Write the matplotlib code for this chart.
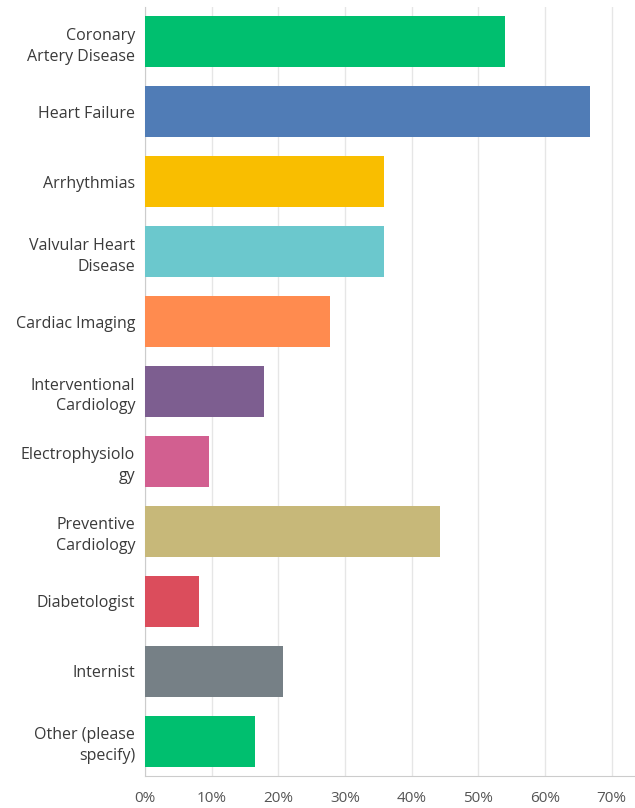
import matplotlib
matplotlib.use("Agg")
import matplotlib.pyplot as plt
import numpy as np

categories = ["Coronary\nArtery Disease", "Heart Failure", "Arrhythmias",
              "Valvular Heart\nDisease", "Cardiac Imaging", "Interventional\nCardiology",
              "Electrophysiolo\ngy", "Preventive\nCardiology", "Diabetologist",
              "Internist", "Other (please\nspecify)"]
values = [54.0, 66.7, 35.9, 35.9, 27.7, 17.9, 9.6, 44.3, 8.1, 20.7, 16.5]
colors = ["#00BF6F", "#507CB6", "#F9BE00", "#6BC8CD", "#FF8B4F", "#7D5E90",
          "#D25F90", "#C7B879", "#DB4D5C", "#768086", "#00BF6F"]
xticks = [0, 10, 20, 30, 40, 50, 60, 70]

plt.rcParams['font.family'] = ['Open Sans', 'DejaVu Sans']

fig = plt.figure(figsize=(6.35, 8.08), dpi=100)
ax = fig.add_axes([0.2283, 0.0396, 0.7717, 0.9517])

y = np.arange(len(categories))
ax.barh(y, values, height=0.73, color=colors, zorder=3)
ax.set_ylim(len(categories) - 0.5, -0.5)
ax.set_xlim(0, 73.5)

ax.set_xticks(xticks)
ax.set_xticklabels([f"{t}%" for t in xticks], fontsize=11, color="#555555")
ax.set_yticks(y)
ax.set_yticklabels(categories, fontsize=11.5, color="#3a3a3a", linespacing=1.4)
ax.tick_params(axis="both", length=0)
ax.tick_params(axis="x", pad=11)
ax.tick_params(axis="y", pad=7)

ax.grid(axis="x", color="#e6e6e6", linewidth=1, zorder=0)
for s in ["top", "right"]:
    ax.spines[s].set_visible(False)
ax.spines["left"].set_color("#cccccc")
ax.spines["bottom"].set_color("#cccccc")

fig.savefig("out.png", dpi=100)
